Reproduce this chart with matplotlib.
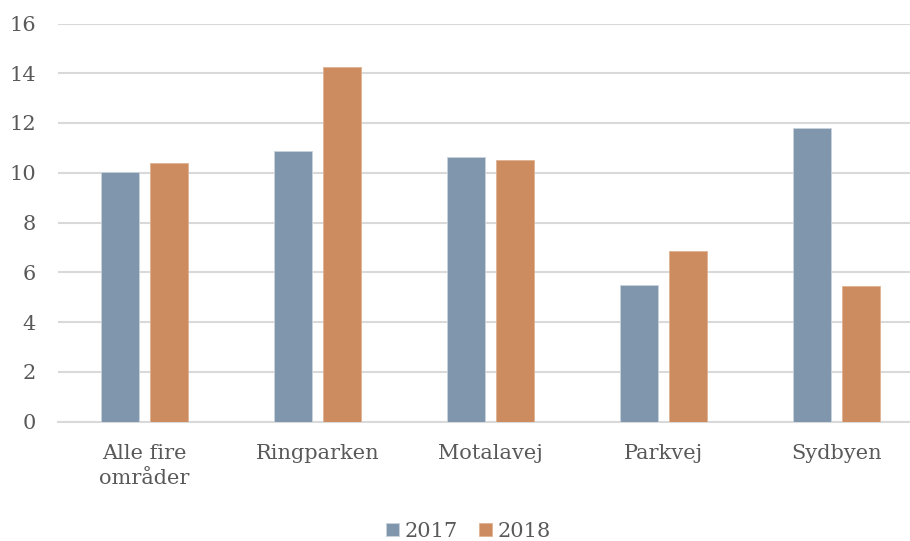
import numpy as np
import matplotlib.pyplot as plt

# data
categories = ['Alle fire\nområder', 'Ringparken', 'Motalavej', 'Parkvej', 'Sydbyen']
values_2017 = [10.04, 10.89, 10.65, 5.50, 11.80]
values_2018 = [10.38, 14.25, 10.50, 6.84, 5.45]
series_labels = ['2017', '2018']

BLUE = '#7F96AD'
ORANGE = '#CC8C5F'
TEXT = '#595959'
GRID = '#D9D9D9'

plt.rcParams['font.family'] = ['DejaVu Serif']

fig = plt.figure(figsize=(9.1, 5.41), dpi=100)
ax = fig.add_axes([58 / 910, 119.5 / 541, 1 - 58 / 910, 398 / 541])

x = np.arange(len(categories))
w = 0.223
off = 0.1425
ax.bar(x - off, values_2017, w, color=BLUE, edgecolor='#C9D3DD', linewidth=0.6,
       label=series_labels[0], zorder=3)
ax.bar(x + off, values_2018, w, color=ORANGE, edgecolor='#E0B391', linewidth=0.6,
       label=series_labels[1], zorder=3)

ax.set_xlim(-0.5, 4.425)
ax.set_ylim(0, 16)
ax.set_yticks(range(0, 17, 2))
ax.set_xticks(x)
ax.set_xticklabels(categories)

ax.yaxis.grid(True, color=GRID, linewidth=1.5, zorder=0)
ax.set_axisbelow(True)
for s in ['top', 'right', 'left']:
    ax.spines[s].set_visible(False)
ax.spines['bottom'].set_color(GRID)
ax.spines['bottom'].set_linewidth(1.5)

ax.tick_params(axis='y', length=0, pad=16, labelsize=15, labelcolor=TEXT)
ax.tick_params(axis='x', length=0, pad=16, labelsize=15, labelcolor=TEXT)
for lbl in ax.get_xticklabels():
    lbl.set_linespacing(1.45)

fig.legend(loc='center', bbox_to_anchor=(0.515, 0.018), ncol=2, frameon=False,
           fontsize=15, labelcolor=TEXT, handlelength=0.6, handleheight=0.6,
           handletextpad=0.3, columnspacing=1.0)

fig.savefig('out.png', dpi=100)
